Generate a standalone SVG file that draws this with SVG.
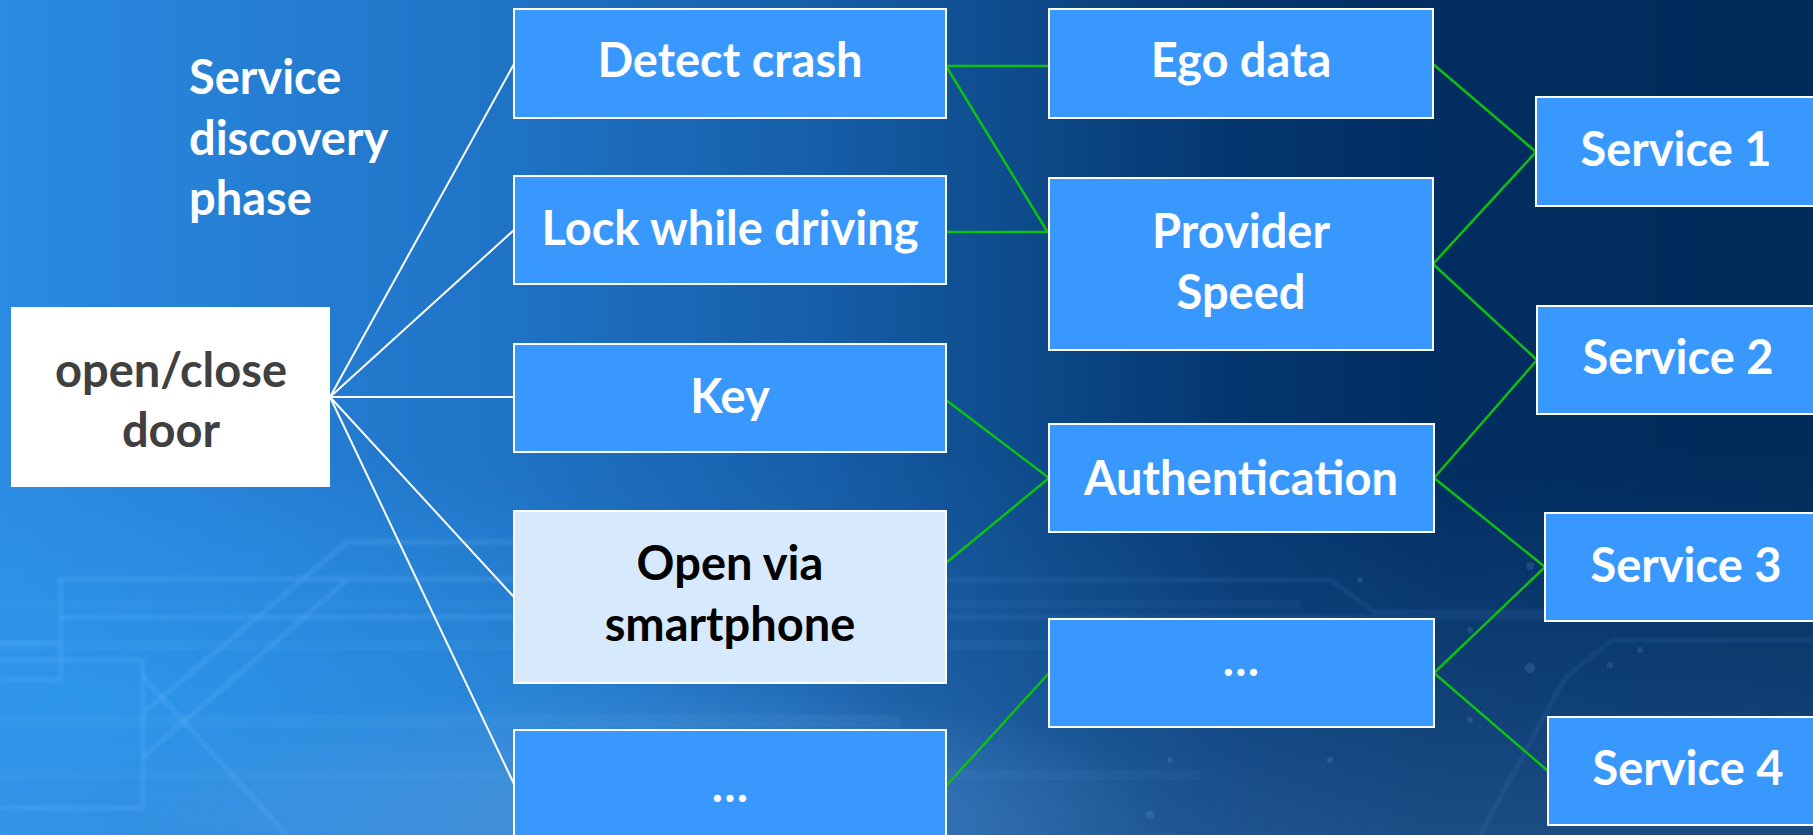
<svg xmlns="http://www.w3.org/2000/svg" width="1813" height="835" viewBox="0 0 1813 835">
  <defs>
    <linearGradient id="bgMain" x1="0" y1="0" x2="1" y2="0">
      <stop offset="0" stop-color="#2b8ae2"/>
      <stop offset="0.28" stop-color="#1f73c5"/>
      <stop offset="0.45" stop-color="#165ea9"/>
      <stop offset="0.58" stop-color="#0c4886"/>
      <stop offset="0.68" stop-color="#04366f"/>
      <stop offset="0.8" stop-color="#012d60"/>
      <stop offset="1" stop-color="#002b5a"/>
    </linearGradient>
    <linearGradient id="bgLow" x1="0" y1="0" x2="0" y2="1">
      <stop offset="0" stop-color="#4a90d8" stop-opacity="0"/>
      <stop offset="0.55" stop-color="#4a90d8" stop-opacity="0.16"/>
      <stop offset="1" stop-color="#5a98d8" stop-opacity="0.3"/>
    </linearGradient>
    <radialGradient id="leftGlow" cx="0.5" cy="0.5" r="0.5">
      <stop offset="0" stop-color="#2aa2f8" stop-opacity="0.5"/>
      <stop offset="0.6" stop-color="#2aa2f8" stop-opacity="0.25"/>
      <stop offset="1" stop-color="#2aa2f8" stop-opacity="0"/>
    </radialGradient>
    <radialGradient id="glow" cx="0.5" cy="0.5" r="0.5">
      <stop offset="0" stop-color="#6aa8e8" stop-opacity="0.42"/>
      <stop offset="1" stop-color="#6aa8e8" stop-opacity="0"/>
    </radialGradient>
    <filter id="soft" x="-5%" y="-5%" width="110%" height="110%">
      <feGaussianBlur stdDeviation="1.5"/>
    </filter>
    <style>
      .box { fill: #3898fd; stroke: #ffffff; stroke-width: 2; }
      .box-light { fill: #d7e9fd; stroke: #ffffff; stroke-width: 2; }
      .box-white { fill: #ffffff; }
      .lbl { font-family: Lato, "Open Sans", sans-serif; font-weight: bold; font-size: 47px; text-anchor: middle; fill: #ffffff; }
      .lbl-dark { fill: #404040; }
      .lbl-black { fill: #000000; }
      .title { font-family: Lato, "Open Sans", sans-serif; font-weight: bold; font-size: 47px; fill: #ffffff; }
      .wire { stroke: #ffffff; stroke-width: 2; fill: none; }
      .link { stroke: #10c010; stroke-width: 2.5; fill: none; }
      .trace { stroke: #6cb8ff; stroke-width: 5; fill: none; stroke-opacity: 0.2; stroke-linejoin: round; }
      .trace-dim { stroke: #6cb8ff; stroke-width: 4; fill: none; stroke-opacity: 0.1; stroke-linejoin: round; }
      .band { fill: #7cc4ff; }
    </style>
  </defs>

  <!-- backdrop -->
  <g id="background">
    <rect x="0" y="0" width="1813" height="835" fill="url(#bgMain)"/>
    <rect x="0" y="450" width="1813" height="385" fill="url(#bgLow)"/>
    <ellipse cx="120" cy="700" rx="760" ry="250" fill="url(#leftGlow)"/>
    <ellipse cx="640" cy="805" rx="520" ry="120" fill="url(#glow)"/>
    <!-- soft horizontal light bands -->
    <rect class="band" x="0" y="600" width="1300" height="8" opacity="0.05"/>
    <rect class="band" x="0" y="640" width="1100" height="10" opacity="0.06"/>
    <rect class="band" x="0" y="715" width="900" height="12" opacity="0.07"/>
    <rect class="band" x="0" y="770" width="1200" height="10" opacity="0.05"/>
    <!-- faint circuit traces -->
    <g filter="url(#soft)">
      <path class="trace" d="M0,680 H61 V579 H946"/>
      <path class="trace" d="M61,617 H946"/>
      <path class="trace" d="M0,643 H58"/>
      <path class="trace" d="M0,660 H143 V808 H0"/>
      <path class="trace" d="M143,757 L347,580"/>
      <path class="trace" d="M143,713 L347,542 H514"/>
      <path class="trace" d="M143,677 L287,835"/>
      <path class="trace-dim" d="M946,580 H1330 L1375,612 H1813"/>
      <path class="trace-dim" d="M946,617 H1813"/>
      <path class="trace-dim" d="M1565,678 L1612,640 H1813"/>
      <path class="trace-dim" d="M1480,835 L1565,678"/>
    </g>
    <g fill="#8cc8ff" opacity="0.14">
      <circle cx="1340" cy="467" r="4"/>
      <circle cx="1530" cy="566" r="4"/>
      <circle cx="1360" cy="580" r="3"/>
      <circle cx="1530" cy="668" r="5"/>
      <circle cx="1470" cy="630" r="3"/>
      <circle cx="1640" cy="650" r="3"/>
      <circle cx="1470" cy="720" r="3"/>
      <circle cx="1610" cy="665" r="3"/>
      <circle cx="1170" cy="760" r="3"/>
      <circle cx="1330" cy="760" r="3"/>
      <circle cx="1150" cy="815" r="4"/>
    </g>
  </g>

  <!-- connectors -->
  <g id="connectors">
    <line class="wire" x1="330" y1="397" x2="514" y2="64"/>
    <line class="wire" x1="330" y1="397" x2="514" y2="230"/>
    <line class="wire" x1="330" y1="397" x2="514" y2="397"/>
    <line class="wire" x1="330" y1="397" x2="514" y2="597"/>
    <line class="wire" x1="330" y1="397" x2="514" y2="784"/>

    <line class="link" x1="946" y1="66" x2="1049" y2="66"/>
    <line class="link" x1="946" y1="66" x2="1047" y2="231"/>
    <line class="link" x1="946" y1="232" x2="1049" y2="232"/>
    <line class="link" x1="946" y1="400" x2="1049" y2="478"/>
    <line class="link" x1="946" y1="563" x2="1049" y2="478"/>
    <line class="link" x1="946" y1="786" x2="1049" y2="673"/>

    <line class="link" x1="1433" y1="64" x2="1536" y2="152"/>
    <line class="link" x1="1433" y1="264" x2="1536" y2="152"/>
    <line class="link" x1="1433" y1="264" x2="1537" y2="360"/>
    <line class="link" x1="1434" y1="478" x2="1537" y2="360"/>
    <line class="link" x1="1434" y1="478" x2="1545" y2="567"/>
    <line class="link" x1="1434" y1="673" x2="1545" y2="567"/>
    <line class="link" x1="1434" y1="673" x2="1548" y2="771"/>
  </g>

  <!-- phase caption -->
  <g id="phase-caption">
    <text class="title" x="189" y="94">Service</text>
    <text class="title" x="189" y="155">discovery</text>
    <text class="title" x="189" y="215">phase</text>
  </g>

  <!-- root function -->
  <g id="open-close-door">
    <rect class="box-white" x="11" y="307" width="319" height="180"/>
    <text class="lbl lbl-dark" x="171" y="387">open/close</text>
    <text class="lbl lbl-dark" x="171" y="447">door</text>
  </g>

  <!-- functions -->
  <g id="detect-crash">
    <rect class="box" x="514" y="9" width="432" height="109"/>
    <text class="lbl" x="730" y="77">Detect crash</text>
  </g>
  <g id="lock-while-driving">
    <rect class="box" x="514" y="176" width="432" height="108"/>
    <text class="lbl" x="730" y="245">Lock while driving</text>
  </g>
  <g id="key">
    <rect class="box" x="514" y="344" width="432" height="108"/>
    <text class="lbl" x="730" y="413">Key</text>
  </g>
  <g id="open-via-smartphone">
    <rect class="box-light" x="514" y="511" width="432" height="172"/>
    <text class="lbl lbl-black" x="730" y="580">Open via</text>
    <text class="lbl lbl-black" x="730" y="641">smartphone</text>
  </g>
  <g id="more-functions">
    <rect class="box" x="514" y="730" width="432" height="112"/>
    <text class="lbl" x="730" y="802">…</text>
  </g>

  <!-- providers -->
  <g id="ego-data">
    <rect class="box" x="1049" y="9" width="384" height="109"/>
    <text class="lbl" x="1241" y="77">Ego data</text>
  </g>
  <g id="provider-speed">
    <rect class="box" x="1049" y="178" width="384" height="172"/>
    <text class="lbl" x="1241" y="248">Provider</text>
    <text class="lbl" x="1241" y="309">Speed</text>
  </g>
  <g id="authentication">
    <rect class="box" x="1049" y="424" width="385" height="108"/>
    <text class="lbl" x="1241" y="495">Authentication</text>
  </g>
  <g id="more-providers">
    <rect class="box" x="1049" y="619" width="385" height="108"/>
    <text class="lbl" x="1241" y="676">…</text>
  </g>

  <!-- services -->
  <g id="service-1">
    <rect class="box" x="1536" y="97" width="290" height="109"/>
    <text class="lbl" x="1676" y="166">Service 1</text>
  </g>
  <g id="service-2">
    <rect class="box" x="1537" y="306" width="290" height="108"/>
    <text class="lbl" x="1678" y="374">Service 2</text>
  </g>
  <g id="service-3">
    <rect class="box" x="1545" y="513" width="290" height="108"/>
    <text class="lbl" x="1686" y="582">Service 3</text>
  </g>
  <g id="service-4">
    <rect class="box" x="1548" y="717" width="290" height="108"/>
    <text class="lbl" x="1688" y="785">Service 4</text>
  </g>
</svg>
